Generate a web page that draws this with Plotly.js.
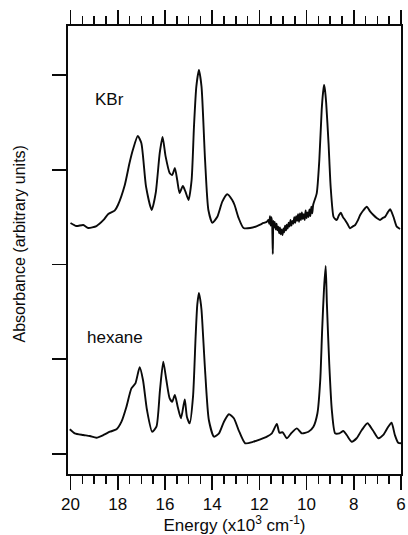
<!DOCTYPE html>
<html>
<head>
<meta charset="utf-8">
<script src="https://cdn.plot.ly/plotly-3.0.1.min.js"></script>
<style>
  html, body { margin: 0; padding: 0; background: #ffffff; }
  #chart { width: 408px; height: 535px; }
</style>
</head>
<body>
<div id="chart"></div>
<script>
// Electronic absorption spectra, energy in units of 10^3 cm^-1.
// The KBr spectrum is drawn offset above the hexane spectrum.

const energyKBr = [
  20.0, 19.75, 19.46, 19.25, 18.9, 18.6, 18.4, 18.13, 17.99, 17.7,
  17.5, 17.36, 17.15, 17.0, 16.8, 16.56, 16.39, 16.22, 16.1, 15.97,
  15.8, 15.69, 15.58, 15.48, 15.38, 15.24, 15.13, 15.0, 14.87, 14.77,
  14.67, 14.56, 14.45, 14.3, 14.16, 13.99, 13.78, 13.57, 13.36, 13.15,
  13.05, 12.88, 12.67, 12.39, 12.1, 11.82, 11.68,
  11.62, 11.58, 11.55, 11.52, 11.49, 11.46, 11.43, 11.41, 11.38, 11.35,
  11.31, 11.27, 11.24, 11.2, 11.16, 11.13, 11.09, 11.06, 11.02, 10.98,
  10.95, 10.91, 10.87, 10.84, 10.8, 10.76, 10.72, 10.68, 10.64, 10.6,
  10.56, 10.52, 10.48, 10.44, 10.4, 10.36, 10.32, 10.28, 10.24, 10.2,
  10.16, 10.12, 10.08, 10.04, 10.0, 9.96, 9.92, 9.88, 9.84, 9.8,
  9.76, 9.72,
  9.57, 9.46, 9.36, 9.3, 9.26, 9.22, 9.17, 9.07, 8.98, 8.86,
  8.79, 8.72, 8.63, 8.55, 8.46, 8.37, 8.27, 8.16, 8.05, 7.94,
  7.84, 7.73, 7.6, 7.45, 7.31, 7.17, 7.03, 6.89, 6.78, 6.67,
  6.56, 6.46, 6.32, 6.18, 6.04
];
const absorbanceKBr = [
  2.438, 2.406, 2.417, 2.385, 2.406, 2.470, 2.533, 2.568, 2.628, 2.839,
  3.071, 3.208, 3.356, 3.282, 2.821, 2.575, 2.755, 3.177, 3.346, 3.138,
  2.966, 2.945, 3.018, 2.892, 2.755, 2.828, 2.768, 2.681, 2.892, 3.454,
  3.877, 4.053, 3.877, 3.103, 2.575, 2.441, 2.504, 2.663, 2.741, 2.681,
  2.628, 2.491, 2.385, 2.385, 2.406, 2.438, 2.452,
  2.47, 2.43, 2.51, 2.41, 2.50, 2.44, 2.11, 2.46, 2.39, 2.45,
  2.37, 2.43, 2.36, 2.40, 2.33, 2.39, 2.32, 2.37, 2.31, 2.38,
  2.34, 2.41, 2.36, 2.42, 2.38, 2.44, 2.40, 2.47, 2.41, 2.46,
  2.43, 2.50, 2.44, 2.51, 2.46, 2.53, 2.45, 2.54, 2.47, 2.55,
  2.48, 2.53, 2.47, 2.57, 2.49, 2.55, 2.50, 2.58, 2.51, 2.61,
  2.54, 2.63,
  2.751, 3.103, 3.631, 3.82, 3.894, 3.84, 3.705, 3.282, 2.821, 2.504,
  2.48, 2.470, 2.52, 2.547, 2.50, 2.470, 2.43, 2.382, 2.40, 2.417,
  2.46, 2.522, 2.57, 2.610, 2.56, 2.522, 2.49, 2.470, 2.49, 2.504,
  2.55, 2.583, 2.504, 2.399, 2.375
];

const energyHexane = [
  20.03, 19.82, 19.46, 19.18, 18.9, 18.6, 18.33, 18.05, 17.84, 17.63,
  17.42, 17.25, 17.07, 16.93, 16.76, 16.54, 16.36, 16.21, 16.07, 15.94,
  15.8, 15.69, 15.58, 15.46, 15.32, 15.16, 15.07, 14.95, 14.81, 14.7,
  14.63, 14.56, 14.5, 14.45, 14.3, 14.14, 13.92, 13.71, 13.5, 13.29,
  13.08, 12.88, 12.6, 12.25, 11.96, 11.68, 11.47, 11.26, 11.15, 11.01,
  10.84, 10.63, 10.41, 10.2, 9.92, 9.71, 9.54, 9.42, 9.34, 9.26,
  9.19, 9.14, 9.04, 8.93, 8.79, 8.61, 8.44, 8.3, 8.09, 7.88,
  7.66, 7.42, 7.2, 6.96, 6.75, 6.54, 6.4, 6.26, 6.12, 6.0
];
const absorbanceHexane = [
  0.261, 0.218, 0.201, 0.190, 0.172, 0.201, 0.235, 0.261, 0.341, 0.499,
  0.693, 0.746, 0.915, 0.781, 0.464, 0.235, 0.288, 0.675, 0.974, 0.781,
  0.588, 0.552, 0.623, 0.499, 0.377, 0.577, 0.394, 0.324, 0.605, 1.238,
  1.573, 1.699, 1.625, 1.520, 0.887, 0.359, 0.183, 0.218, 0.341, 0.419,
  0.377, 0.253, 0.113, 0.130, 0.155, 0.183, 0.218, 0.317, 0.225, 0.229,
  0.166, 0.225, 0.271, 0.218, 0.235, 0.288, 0.430, 0.781, 1.309, 1.75,
  1.984, 1.591, 0.957, 0.464, 0.218, 0.218, 0.243, 0.201, 0.130, 0.166,
  0.253, 0.324, 0.253, 0.166, 0.201, 0.288, 0.330, 0.201, 0.119, 0.113
];

const energyTicks = [20, 18, 16, 14, 12, 10, 8, 6];
const energyTickLabels = ['20', '18', '16', '14', '12', '10', '8', '6'];
const absorbanceTicks = [0, 1, 2, 3, 4];

const lineStyle = { color: '#0a0a0a', width: 1.9, shape: 'spline', smoothing: 0.6 };

const traces = [
  {
    x: energyKBr, y: absorbanceKBr, type: 'scatter', mode: 'lines',
    name: 'KBr', line: lineStyle, hoverinfo: 'skip'
  },
  {
    x: energyHexane, y: absorbanceHexane, type: 'scatter', mode: 'lines',
    name: 'hexane', line: lineStyle, hoverinfo: 'skip'
  }
];

const font = 'Arial, "Liberation Sans", Helvetica, sans-serif';
const ink = '#0a0a0a';

const layout = {
  width: 408,
  height: 535,
  margin: { l: 68, r: 7, t: 26, b: 61 },
  paper_bgcolor: '#ffffff',
  plot_bgcolor: '#ffffff',
  showlegend: false,
  font: { family: font, color: ink, size: 17 },
  xaxis: {
    range: [20.106, 6],
    autorange: false,
    showgrid: false,
    zeroline: false,
    showline: true,
    linecolor: ink,
    linewidth: 1.8,
    mirror: 'allticks',
    ticks: 'outside',
    ticklen: 14,
    tickwidth: 1.7,
    tickcolor: ink,
    tickvals: energyTicks,
    ticktext: energyTickLabels,
    tickfont: { family: font, size: 17, color: ink },
    minor: { dtick: 0.5, tick0: 0, ticks: 'outside', ticklen: 8, tickwidth: 1.6, tickcolor: ink, showgrid: false },
    title: {
      text: 'Energy (x10<sup>3</sup> cm<sup>-1</sup>)',
      font: { family: font, size: 17, color: ink },
      standoff: 6
    }
  },
  yaxis: {
    range: [-0.211, 4.517],
    autorange: false,
    showgrid: false,
    zeroline: false,
    showline: true,
    linecolor: ink,
    linewidth: 1.8,
    mirror: true,
    ticks: 'outside',
    ticklen: 14,
    tickwidth: 1.7,
    tickcolor: ink,
    tickvals: absorbanceTicks,
    showticklabels: false
  },
  annotations: [
    {
      text: 'Absorbance (arbitrary units)',
      xref: 'paper', yref: 'paper',
      x: (18.5 - 68) / 333, y: (474 - 244) / 448,
      xanchor: 'center', yanchor: 'middle',
      textangle: -90, showarrow: false,
      font: { family: font, size: 16, color: ink }
    },
    {
      text: 'KBr',
      xref: 'x', yref: 'paper',
      x: 18.35, y: (474 - 99) / 448,
      xanchor: 'center', yanchor: 'middle', showarrow: false,
      font: { family: font, size: 17, color: ink }
    },
    {
      text: 'hexane',
      xref: 'x', yref: 'paper',
      x: 18.1, y: (474 - 337) / 448,
      xanchor: 'center', yanchor: 'middle', showarrow: false,
      font: { family: font, size: 17, color: ink }
    }
  ]
};

Plotly.newPlot('chart', traces, layout, { staticPlot: true, displayModeBar: false });
</script>
</body>
</html>
